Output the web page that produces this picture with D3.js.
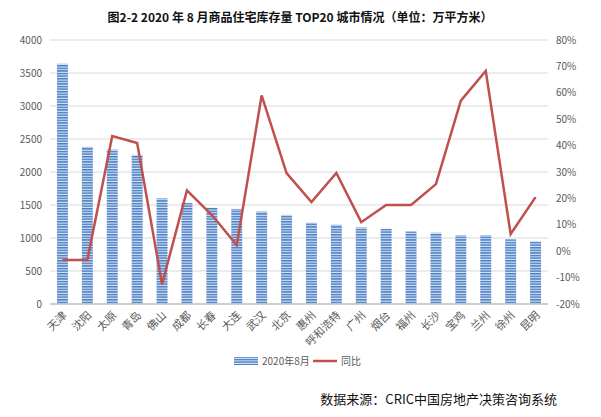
<!DOCTYPE html><html><head><meta charset="utf-8"><script src="https://d3js.org/d3.v7.min.js"></script>
<style>body{margin:0;background:#fff}text{font-family:"Noto Sans CJK SC","Liberation Sans",sans-serif}</style></head><body><script>
const cities=["天津","沈阳","太原","青岛","佛山","成都","长春","大连","武汉","北京","惠州","呼和浩特","广州","烟台","福州","长沙","宝鸡","兰州","徐州","昆明"];
const stock=[3640,2380,2340,2260,1600,1530,1460,1440,1400,1350,1230,1200,1160,1140,1100,1080,1040,1040,980,950];
const yoy=[-3.3,-3.3,43.6,41,-12.5,23,13.7,2.3,59,29.6,18.6,29.6,11,17.5,17.5,25.4,57,68.3,6.5,20.5];
const leftTicks=[0,500,1000,1500,2000,2500,3000,3500,4000];
const rightTicks=[-20,-10,0,10,20,30,40,50,60,70,80];
const W=601,H=417,L=50,R=548,T=40,B=304;
const svg=d3.select("body").append("svg").attr("width",W).attr("height",H);
const defs=svg.append("defs");
const p=defs.append("pattern").attr("id","st").attr("width",4).attr("height",2.6).attr("patternUnits","userSpaceOnUse");
p.append("rect").attr("width",4).attr("height",2.6).attr("fill","#dbe6f5");
p.append("rect").attr("width",4).attr("height",1.5).attr("fill","#4a7ec4");
const x=d3.scaleBand().domain(cities).range([L,R]);
const yl=d3.scaleLinear().domain([0,4000]).range([B,T]);
const yr=d3.scaleLinear().domain([-20,80]).range([B,T]);
svg.append("g").selectAll("line").data(leftTicks.slice(1)).join("line").attr("x1",L).attr("x2",R).attr("y1",yl).attr("y2",yl).attr("stroke","#d9d9d9");
svg.append("g").selectAll("rect").data(stock).join("rect").attr("x",(d,i)=>x(cities[i])+x.bandwidth()*0.28).attr("width",x.bandwidth()*0.44).attr("y",d=>yl(d)).attr("height",d=>B-yl(d)).attr("fill","url(#st)");
svg.append("line").attr("x1",L).attr("x2",R).attr("y1",B).attr("y2",B).attr("stroke","#bfbfbf").attr("stroke-width",1.5);
svg.append("path").datum(yoy).attr("d",d3.line().x((d,i)=>x(cities[i])+x.bandwidth()/2).y(d=>yr(d))).attr("fill","none").attr("stroke","#c0504d").attr("stroke-width",2.5);
svg.append("g").selectAll("text").data(leftTicks).join("text").attr("x",L-8).attr("y",d=>yl(d)+3.5).attr("text-anchor","end").attr("font-size",10).attr("fill","#595959").text(d=>d);
svg.append("g").selectAll("text").data(rightTicks).join("text").attr("x",R+8).attr("y",d=>yr(d)+3.5).attr("font-size",10).attr("fill","#595959").text(d=>d+"%");
svg.append("g").selectAll("text").data(cities).join("text").attr("transform",d=>`translate(${x(d)+x.bandwidth()/2+5},${B+12}) rotate(-45)`).attr("text-anchor","end").attr("font-size",11).attr("fill","#595959").text(d=>d);
svg.append("text").attr("x",300).attr("y",22).attr("text-anchor","middle").attr("font-size",12).attr("font-weight","bold").attr("fill","#111").text("图2-2 2020 年 8 月商品住宅库存量 TOP20 城市情况（单位：万平方米）");
const lg=svg.append("g");
lg.append("rect").attr("x",234).attr("y",357).attr("width",24).attr("height",8).attr("fill","url(#st)");
lg.append("text").attr("x",262).attr("y",365).attr("font-size",10).attr("fill","#595959").text("2020年8月");
lg.append("line").attr("x1",313).attr("x2",337).attr("y1",361).attr("y2",361).attr("stroke","#c0504d").attr("stroke-width",2.5);
lg.append("text").attr("x",341).attr("y",365).attr("font-size",10).attr("fill","#595959").text("同比");
svg.append("text").attr("x",557).attr("y",404).attr("text-anchor","end").attr("font-size",13).attr("fill","#111").text("数据来源：CRIC中国房地产决策咨询系统");
</script></body></html>
